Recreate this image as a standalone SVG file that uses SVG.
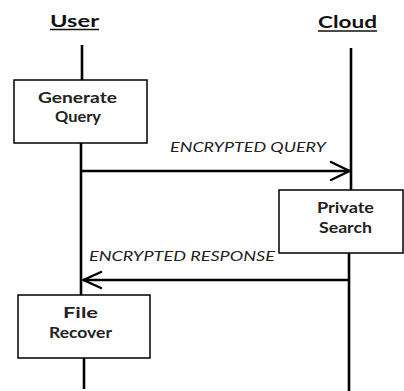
<svg xmlns="http://www.w3.org/2000/svg" width="404" height="391" viewBox="0 0 404 391">
  <style>
    .bg { fill: #ffffff; }
    .life { stroke: #000; stroke-width: 2.6; fill: none; }
    .box { fill: #ffffff; stroke: #000; stroke-width: 1.5; }
    .msg { stroke: #000; stroke-width: 2.6; fill: none; }
    .head { stroke: #000; stroke-width: 2.4; fill: none; stroke-linecap: round; stroke-linejoin: miter; }
    .actor { font-family: Lato, "Open Sans", "Liberation Sans", sans-serif; font-weight: bold; font-size: 17px; fill: #111; }
    .uline { stroke: #111; stroke-width: 1.5; }
    .label { font-family: Lato, "Liberation Sans", sans-serif; font-weight: bold; font-size: 15px; fill: #222; text-anchor: middle; }
    .msgtext { font-family: Lato, "Open Sans", "Liberation Sans", sans-serif; font-style: italic; font-size: 14px; fill: #222; }
  </style>
  <rect class="bg" x="0" y="0" width="404" height="391"/>

  <!-- lifeline headers -->
  <g id="actor-user">
    <text class="actor" x="50" y="27" textLength="49" lengthAdjust="spacingAndGlyphs">User</text>
    <line class="uline" x1="50" y1="29.5" x2="99" y2="29.5"/>
  </g>
  <g id="actor-cloud">
    <text class="actor" x="318" y="27.5" textLength="59" lengthAdjust="spacingAndGlyphs">Cloud</text>
    <line class="uline" x1="318" y1="31" x2="377" y2="31"/>
  </g>

  <!-- lifelines and messages -->
  <g id="connectors">
    <line class="life" x1="82" y1="45" x2="82" y2="80"/>
    <line class="life" x1="81" y1="143" x2="81" y2="295"/>
    <line class="life" x1="84" y1="358" x2="84" y2="389"/>
    <line class="life" x1="351" y1="48" x2="351" y2="190"/>
    <line class="life" x1="349" y1="253" x2="349" y2="391"/>

    <line class="msg" x1="81" y1="171" x2="350" y2="171"/>
    <polyline class="head" points="331,162 349.5,171 331,180"/>
    <text class="msgtext" x="170" y="152" textLength="156" lengthAdjust="spacingAndGlyphs">ENCRYPTED QUERY</text>

    <line class="msg" x1="83" y1="280" x2="350" y2="280"/>
    <polyline class="head" points="101,272 83.5,280 101,288"/>
    <text class="msgtext" x="89" y="261" textLength="186" lengthAdjust="spacingAndGlyphs">ENCRYPTED RESPONSE</text>
  </g>

  <!-- activity boxes -->
  <g id="generate-query">
    <rect class="box" x="14" y="80" width="133" height="63"/>
    <text class="label" x="77.5" y="103.3" textLength="79" lengthAdjust="spacingAndGlyphs">Generate</text>
    <text class="label" x="78" y="121.7" textLength="46" lengthAdjust="spacingAndGlyphs">Query</text>
  </g>
  <g id="private-search">
    <rect class="box" x="279" y="190" width="124" height="63"/>
    <text class="label" x="345.5" y="213.3" textLength="57" lengthAdjust="spacingAndGlyphs">Private</text>
    <text class="label" x="345.5" y="233" textLength="53" lengthAdjust="spacingAndGlyphs">Search</text>
  </g>
  <g id="file-recover">
    <rect class="box" x="18" y="295" width="132" height="63"/>
    <text class="label" x="80.5" y="318.3" textLength="35" lengthAdjust="spacingAndGlyphs">File</text>
    <text class="label" x="80.5" y="338" textLength="63" lengthAdjust="spacingAndGlyphs">Recover</text>
  </g>
</svg>
